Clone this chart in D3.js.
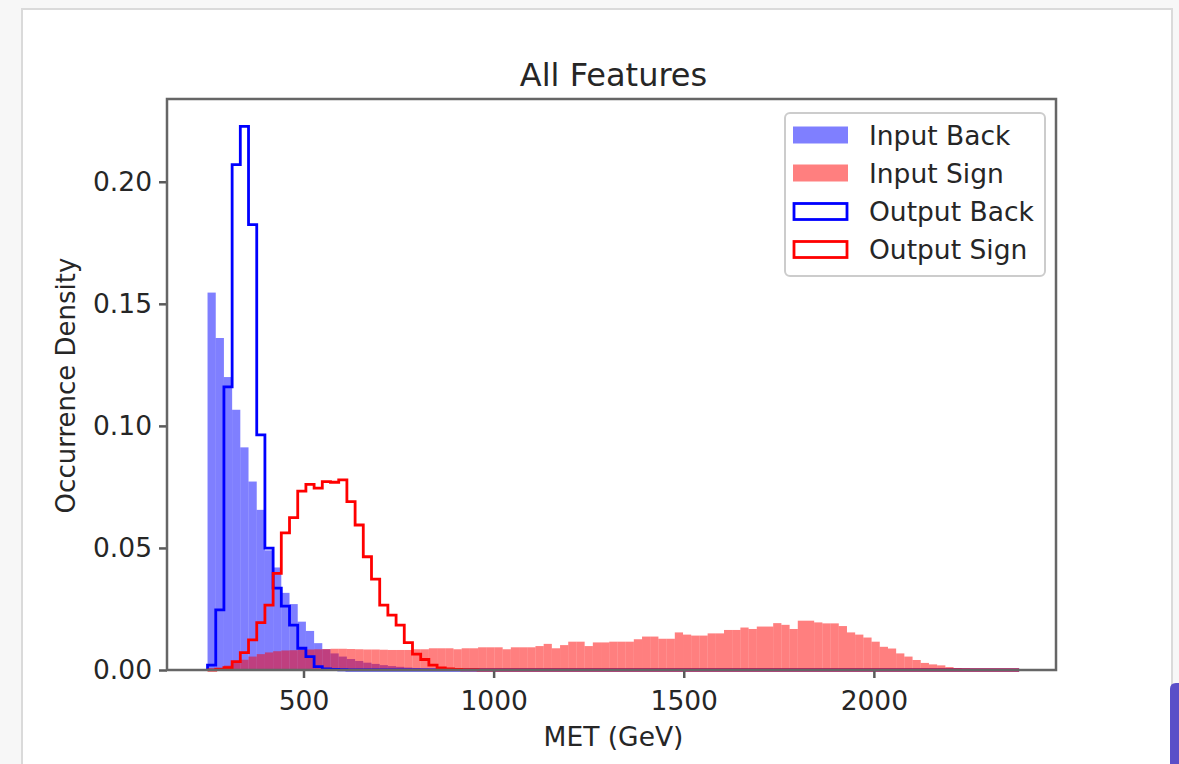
<!DOCTYPE html>
<html><head><meta charset="utf-8">
<script src="https://cdn.jsdelivr.net/npm/d3@7"></script>
<style>
body{margin:0;background:#fff}
svg{display:block}
text{font-family:"DejaVu Sans",sans-serif;fill:#262626}
</style>
</head><body>
<svg id="c" width="1179" height="764"></svg>
<script>
// ---- data ----
const chartTitle = "All Features";
const xLabel = "MET (GeV)";
const yLabel = "Occurrence Density";
const xTicks = [500, 1000, 1500, 2000];
const yTicks = [0.00, 0.05, 0.10, 0.15, 0.20];
const seriesNames = ["Input Back", "Input Sign", "Output Back", "Output Sign"];

// common histogram bin edges (GeV), 99 bins
const binEdges = [
 247.6,269.2,290.7,312.3,333.8,355.4,377.0,398.5,420.1,441.6,
 463.2,484.8,506.3,527.9,549.4,571.0,592.6,614.1,635.7,657.2,
 678.8,700.4,721.9,743.5,765.0,786.6,808.2,829.7,851.3,872.8,
 894.4,916.0,937.5,959.1,980.6,1002.2,1023.8,1045.3,1066.9,1088.4,
 1110.0,1131.6,1153.1,1174.7,1196.2,1217.8,1239.4,1260.9,1282.5,1304.0,
 1325.6,1347.2,1368.7,1390.3,1411.8,1433.4,1455.0,1476.5,1498.1,1519.6,
 1541.2,1562.8,1584.3,1605.9,1627.4,1649.0,1670.6,1692.1,1713.7,1735.2,
 1756.8,1778.4,1799.9,1821.5,1843.0,1864.6,1886.2,1907.7,1929.3,1950.8,
 1972.4,1994.0,2015.5,2037.1,2058.6,2080.2,2101.8,2123.3,2144.9,2166.4,
 2188.0,2209.6,2231.1,2252.7,2274.2,2295.8,2317.4,2338.9,2360.5,2382.0
];

const inputBack = [
 0.1546,0.136,0.12,0.1066,0.0912,0.0772,0.0656,0.049,0.042,0.0316,
 0.027,0.0198,0.016,0.011,0.0085,0.0068,0.0055,0.0045,0.0037,0.003,
 0.0025,0.002,0.0016,0.0013,0.001,0.0008,0.0006,0.0005,0.0004,0.0003,
 0.0002,0.0001,0,0,0,0,0,0,0,0,
 0,0,0,0,0,0,0,0,0,0,
 0,0,0,0,0,0,0,0,0,0,
 0,0,0,0,0,0,0,0,0,0,
 0,0,0,0,0,0,0,0,0,0,
 0,0,0,0,0,0,0,0,0,0,
 0,0,0,0,0,0,0,0,0
];

const inputSign = [
 0.0003,0.0008,0.0018,0.003,0.0042,0.0055,0.0065,0.0072,0.0077,0.008,
 0.0081,0.0083,0.0084,0.0085,0.0086,0.0087,0.0087,0.0086,0.0085,0.0084,
 0.0084,0.0083,0.0082,0.0082,0.0082,0.0085,0.0085,0.0089,0.0089,0.0089,
 0.0085,0.0089,0.0089,0.0093,0.0093,0.0093,0.0085,0.0093,0.0093,0.0093,
 0.0098,0.0107,0.0089,0.0102,0.0116,0.0116,0.0098,0.0113,0.0113,0.0116,
 0.0116,0.0116,0.0126,0.0137,0.0137,0.0128,0.0128,0.0154,0.0145,0.0141,
 0.0141,0.015,0.015,0.0164,0.0164,0.0174,0.0168,0.0178,0.0178,0.0192,
 0.0185,0.0168,0.0202,0.0202,0.0195,0.0191,0.0191,0.018,0.0154,0.0145,
 0.0133,0.0116,0.0095,0.0088,0.0068,0.0055,0.0041,0.0029,0.0023,0.0019,
 0.0012,0.0008,0.0006,0.0004,0.0003,0.0003,0.0002,0.0001,0.0001
];

const outputBack = [
 0.002,0.0246,0.116,0.207,0.2227,0.1824,0.0963,0.0499,0.0335,0.0262,
 0.0184,0.0089,0.0055,0.0014,0.0004,0.0002,0.0001,0,0,0,
 0,0,0,0,0,0,0,0,0,0,
 0,0,0,0,0,0,0,0,0,0,
 0,0,0,0,0,0,0,0,0,0,
 0,0,0,0,0,0,0,0,0,0,
 0,0,0,0,0,0,0,0,0,0,
 0,0,0,0,0,0,0,0,0,0,
 0,0,0,0,0,0,0,0,0,0,
 0,0,0,0,0,0,0,0,0
];

const outputSign = [
 0,0.0003,0.001,0.0034,0.0071,0.0123,0.0194,0.0266,0.0396,0.0562,
 0.0624,0.0733,0.076,0.0745,0.0772,0.0769,0.0779,0.069,0.0594,0.0464,
 0.0372,0.0266,0.0225,0.0184,0.0112,0.0065,0.0043,0.002,0.0009,0.0004,
 0.0002,0.0001,0.0001,0,0,0,0,0,0,0,
 0,0,0,0,0,0,0,0,0,0,
 0,0,0,0,0,0,0,0,0,0,
 0,0,0,0,0,0,0,0,0,0,
 0,0,0,0,0,0,0,0,0,0,
 0,0,0,0,0,0,0,0,0,0,
 0,0,0,0,0,0,0,0,0
];

// ---- drawing ----
const svg = d3.select("#c");
const W = 1179, H = 764;
const plot = {left:167, right:1056, top:99, bottom:670};

// page / card background
svg.append("rect").attr("x",0).attr("y",0).attr("width",W).attr("height",H).attr("fill","#f7f7f7");
svg.append("rect").attr("x",22).attr("y",9).attr("width",1150).attr("height",H+20)
  .attr("fill","#fff").attr("stroke","#dadada").attr("stroke-width",2);
svg.append("path").attr("d","M1179,683 L1176,683 Q1170,683 1170,689 L1170,764 L1179,764 Z").attr("fill","#5a4fc8");

const x = d3.scaleLinear().domain([141, 2479]).range([plot.left, plot.right]);
const y = d3.scaleLinear().domain([0, 0.2339]).range([plot.bottom, plot.top]);

const bins = d3.range(binEdges.length - 1).map(i => ({x0: binEdges[i], x1: binEdges[i+1], i}));

const g = svg.append("g");

function drawBars(values, color) {
  g.append("g").selectAll("rect").data(bins).join("rect")
    .attr("x", d => x(d.x0))
    .attr("width", d => x(d.x1) - x(d.x0))
    .attr("y", d => y(values[d.i]))
    .attr("height", d => y(0) - y(values[d.i]))
    .attr("fill", color).attr("fill-opacity", 0.5);
}
function drawStep(values, color) {
  const pts = [[binEdges[0], 0]];
  bins.forEach(d => { pts.push([d.x0, values[d.i]]); pts.push([d.x1, values[d.i]]); });
  pts.push([binEdges[binEdges.length-1], 0]);
  const line = d3.line().x(p => x(p[0])).y(p => y(p[1]));
  g.append("path").attr("d", line(pts)).attr("fill","none")
    .attr("stroke", color).attr("stroke-width", 2.8).attr("stroke-linejoin","miter");
}

drawBars(inputBack, "#0000ff");
drawBars(inputSign, "#ff0000");
drawStep(outputBack, "#0000ff");
drawStep(outputSign, "#ff0000");

// axes
const xAxis = d3.axisBottom(x).tickValues(xTicks).tickFormat(d3.format("d")).tickSize(8).tickPadding(13);
const yAxis = d3.axisLeft(y).tickValues(yTicks).tickFormat(d3.format(".2f")).tickSize(8).tickPadding(7);

const gx = svg.append("g").attr("transform", `translate(0,${plot.bottom})`).call(xAxis);
const gy = svg.append("g").attr("transform", `translate(${plot.left},0)`).call(yAxis);
[gx, gy].forEach(a => {
  a.select(".domain").remove();
  a.selectAll(".tick line").attr("stroke","#5a5a5a").attr("stroke-width",2.5);
  a.selectAll(".tick text").attr("font-size",26.5).attr("font-family","DejaVu Sans").attr("fill","#262626");
});

// frame
svg.append("rect").attr("x",plot.left).attr("y",plot.top)
  .attr("width",plot.right-plot.left).attr("height",plot.bottom-plot.top)
  .attr("fill","none").attr("stroke","#666").attr("stroke-width",2.5);

// title & labels
svg.append("text").attr("x",(plot.left+plot.right)/2 + 2).attr("y",86)
  .attr("text-anchor","middle").attr("font-size",32).text(chartTitle);
svg.append("text").attr("x",(plot.left+plot.right)/2 + 2).attr("y",746)
  .attr("text-anchor","middle").attr("font-size",26.5).text(xLabel);
svg.append("text").attr("transform",`translate(75,${(plot.top+plot.bottom)/2 + 1}) rotate(-90)`)
  .attr("text-anchor","middle").attr("font-size",26).text(yLabel);

// legend
const lg = svg.append("g");
lg.append("rect").attr("x",785).attr("y",113).attr("width",260).attr("height",163)
  .attr("rx",5).attr("fill","#fff").attr("fill-opacity",0.8)
  .attr("stroke","#cccccc").attr("stroke-width",2);
const legendItems = [
  {name: seriesNames[0], type:"fill", color:"#0000ff"},
  {name: seriesNames[1], type:"fill", color:"#ff0000"},
  {name: seriesNames[2], type:"step", color:"#0000ff"},
  {name: seriesNames[3], type:"step", color:"#ff0000"}
];
const rowY = [135, 173, 211.5, 249.5];
legendItems.forEach((it, k) => {
  const cy = rowY[k];
  if (it.type === "fill") {
    lg.append("rect").attr("x",793).attr("y",cy-8.5).attr("width",55).attr("height",17)
      .attr("fill",it.color).attr("fill-opacity",0.5);
  } else {
    lg.append("rect").attr("x",794).attr("y",cy-8).attr("width",53).attr("height",16)
      .attr("fill","none").attr("stroke",it.color).attr("stroke-width",2.8);
  }
  lg.append("text").attr("x",869).attr("y",cy).attr("dy","0.36em")
    .attr("font-size",26.5).text(it.name);
});
</script>
</body></html>
